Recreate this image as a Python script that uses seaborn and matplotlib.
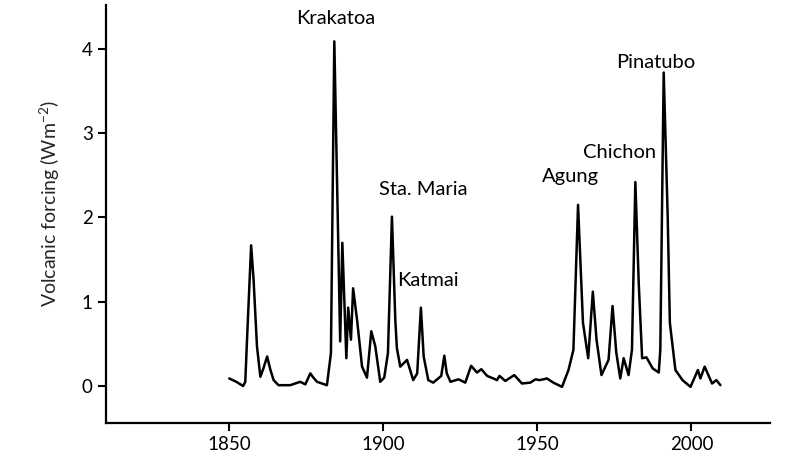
import matplotlib
matplotlib.use("Agg")
import matplotlib.pyplot as plt
import seaborn as sns
import pandas as pd

years = [1850.0, 1852.3, 1854.5, 1855.2, 1855.9, 1857.1, 1857.9, 1859.0, 1860.1, 1861.0,
         1862.3, 1863.3, 1864.4, 1866.0, 1869.8, 1873.0, 1874.7, 1876.3, 1877.3, 1878.5,
         1881.7, 1883.0, 1884.1, 1886.0, 1886.7, 1888.0, 1888.6, 1889.5, 1890.2, 1891.5,
         1893.1, 1894.7, 1896.1, 1897.4, 1899.0, 1900.3, 1901.5, 1902.8, 1903.9, 1904.4,
         1905.5, 1907.7, 1909.7, 1911.0, 1912.2, 1913.1, 1914.6, 1916.2, 1918.8, 1919.8,
         1920.6, 1921.8, 1924.4, 1926.6, 1928.5, 1930.4, 1931.8, 1933.7, 1935.7, 1936.9,
         1937.7, 1939.6, 1942.5, 1945.0, 1947.7, 1949.4, 1950.7, 1952.0, 1953.1, 1955.2,
         1958.0, 1960.1, 1961.7, 1963.2, 1964.8, 1966.5, 1968.0, 1969.2, 1970.8, 1973.1,
         1974.4, 1975.6, 1976.9, 1978.0, 1979.6, 1980.7, 1981.8, 1982.9, 1984.0, 1985.4,
         1987.4, 1989.4, 1989.9, 1991.0, 1992.3, 1993.0, 1994.8, 1997.1, 1999.7, 2002.1,
         2002.9, 2004.3, 2006.7, 2008.1, 2009.4]
forcing = [0.09, 0.05, 0.00, 0.05, 0.66, 1.67, 1.26, 0.47, 0.11, 0.20,
           0.35, 0.20, 0.07, 0.01, 0.01, 0.05, 0.02, 0.15, 0.10, 0.05,
           0.01, 0.39, 4.09, 0.53, 1.70, 0.33, 0.93, 0.55, 1.16, 0.78,
           0.23, 0.10, 0.65, 0.47, 0.05, 0.10, 0.39, 2.01, 0.78, 0.45,
           0.23, 0.31, 0.07, 0.15, 0.93, 0.35, 0.07, 0.04, 0.12, 0.36,
           0.15, 0.05, 0.08, 0.04, 0.24, 0.16, 0.20, 0.12, 0.09, 0.07,
           0.12, 0.06, 0.13, 0.03, 0.04, 0.08, 0.07, 0.08, 0.09, 0.04,
           -0.01, 0.19, 0.43, 2.15, 0.75, 0.33, 1.12, 0.55, 0.13, 0.31,
           0.95, 0.40, 0.09, 0.33, 0.13, 0.43, 2.42, 1.22, 0.33, 0.34,
           0.21, 0.16, 0.43, 3.72, 2.01, 0.75, 0.19, 0.07, -0.01, 0.19,
           0.09, 0.23, 0.03, 0.07, 0.01]

eruptions = ["Krakatoa", "Sta. Maria", "Katmai", "Agung", "Chichon", "Pinatubo"]
label_years = [1884.4, 1913.0, 1914.6, 1960.7, 1976.6, 1988.3]
label_values = [4.36, 2.33, 1.25, 2.49, 2.77, 3.84]

x_ticks = [1850, 1900, 1950, 2000]
y_ticks = [0, 1, 2, 3, 4]

sns.set_style("ticks")
plt.rcParams["font.family"] = ["Lato", "DejaVu Sans"]

df = pd.DataFrame({"year": years, "forcing": forcing})

fig = plt.figure(figsize=(8, 4.65), dpi=100)
ax = fig.add_axes([0.1325, 0.091, 0.83, 0.898])
sns.lineplot(data=df, x="year", y="forcing", color="black", linewidth=1.8, ax=ax)
ax.lines[0].set_solid_joinstyle("round")

for name, xv, yv in zip(eruptions, label_years, label_values):
    ax.text(xv, yv, name, ha="center", va="center", fontsize=14.5, color="black")

ax.set_xlim(1810, 2025.5)
ax.set_ylim(-0.435, 4.52)
ax.set_xticks(x_ticks)
ax.set_yticks(y_ticks)
ax.set_xlabel("")
ax.set_ylabel(r"Volcanic forcing (Wm$^{\mathregular{-2}}$)", fontsize=14)
ax.yaxis.set_label_coords(-0.066, 0.524)
ax.tick_params(axis="both", labelsize=13.5, width=1.5, length=6, color="black", labelcolor="black")
sns.despine(ax=ax)
for s in ["left", "bottom"]:
    ax.spines[s].set_linewidth(1.6)
    ax.spines[s].set_color("black")

fig.savefig("out.png", dpi=100)
